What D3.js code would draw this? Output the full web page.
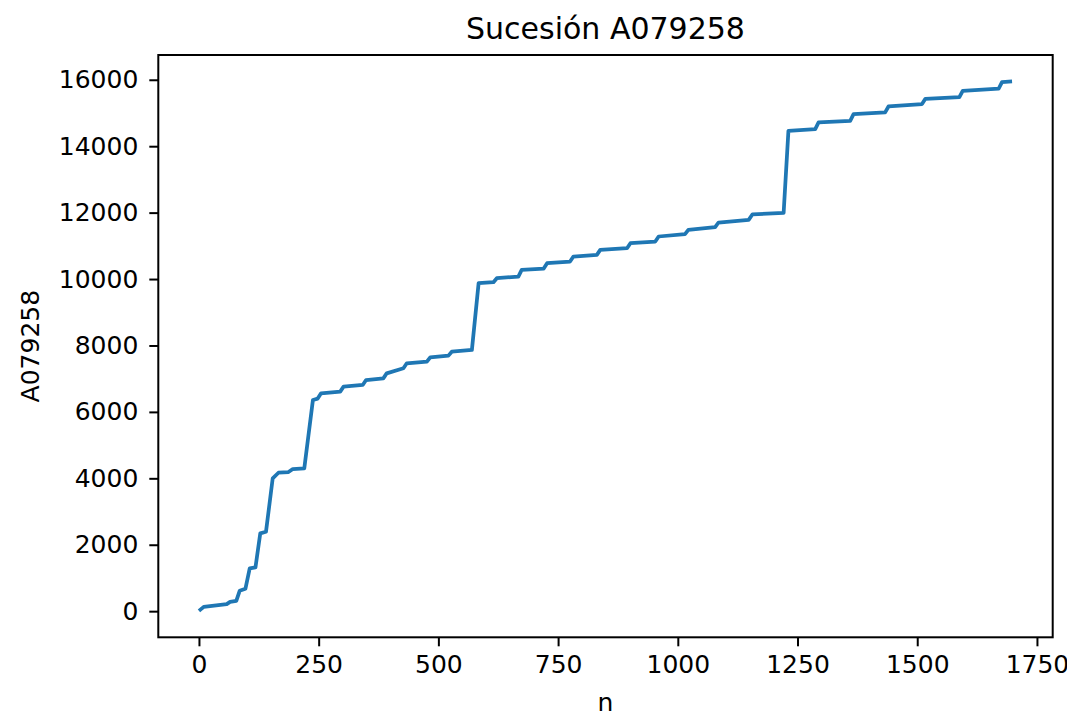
<!DOCTYPE html>
<html>
<head>
<meta charset="utf-8">
<script src="https://cdn.jsdelivr.net/npm/d3@7"></script>
<style>
  html, body { margin: 0; padding: 0; background: #fff; }
  svg { display: block; }
  text { font-family: "DejaVu Sans", sans-serif; fill: #000; }
</style>
</head>
<body>
<svg id="chart" width="1067" height="717"></svg>
<script>
// Polyline vertices of the sequence plot
const nValues = [0, 10, 58, 65, 78, 85, 97, 106, 118, 128, 140, 154, 166, 187, 196, 220, 238,
  248, 255, 295, 302, 342, 349, 385, 392, 427, 434, 476, 483, 521, 528, 570, 584,
  615, 622, 667, 674, 720, 727, 775, 782, 831, 838, 894, 901, 953, 960, 1015, 1022,
  1078, 1085, 1148, 1156, 1221, 1231, 1287, 1294, 1360, 1367, 1433, 1440, 1510, 1517,
  1588, 1595, 1670, 1677, 1698];
const aValues = [10, 130, 211, 280, 310, 612, 672, 1286, 1316, 2341, 2390, 3998, 4168, 4188, 4279, 4300, 6358,
  6400, 6560, 6610, 6760, 6810, 6960, 7010, 7160, 7313, 7463, 7512, 7644, 7693, 7813, 7865, 9874,
  9904, 10025, 10074, 10275, 10316, 10477, 10527, 10678, 10728, 10878, 10929, 11080, 11130, 11281, 11351, 11481,
  11562, 11702, 11783, 11950, 11990, 14464, 14514, 14715, 14765, 14966, 15016, 15196, 15267, 15427,
  15479, 15669, 15730, 15930, 15949];
const xTicks = [0, 250, 500, 750, 1000, 1250, 1500, 1750];
const yTicks = [0, 2000, 4000, 6000, 8000, 10000, 12000, 14000, 16000];
const titleText = "Sucesión A079258";
const xLabel = "n";
const yLabel = "A079258";

(function () {
const data = nValues.map((n, i) => ({ n, a: aValues[i] }));

const svg = d3.select("#chart");
const L = 158.3, R = 1052.7, T = 55, B = 637.3;

function padded(ext) {
  const s = ext[1] - ext[0];
  return [ext[0] - 0.05 * s, ext[1] + 0.05 * s];
}
const x = d3.scaleLinear().domain(padded(d3.extent(nValues))).range([L, R]);
const y = d3.scaleLinear().domain(padded(d3.extent(aValues))).range([B, T]);

// line
svg.append("path")
  .datum(data)
  .attr("fill", "none")
  .attr("stroke", "#1f77b4")
  .attr("stroke-width", 3.75)
  .attr("stroke-linejoin", "round")
  .attr("stroke-linecap", "butt")
  .attr("d", d3.line().x(d => x(d.n)).y(d => y(d.a)));

// axes
const xAxis = d3.axisBottom(x).tickValues(xTicks).tickSize(9).tickPadding(9).tickFormat(d3.format("d"));
const yAxis = d3.axisLeft(y).tickValues(yTicks).tickSize(9).tickPadding(11).tickFormat(d3.format("d"));

const gx = svg.append("g").attr("transform", `translate(0,${B})`).call(xAxis);
const gy = svg.append("g").attr("transform", `translate(${L},0)`).call(yAxis);
[gx, gy].forEach(g => {
  g.select(".domain").remove();
  g.selectAll(".tick line").attr("stroke", "#000").attr("stroke-width", 2);
  g.selectAll(".tick text").attr("font-size", 25).attr("fill", "#000")
    .attr("font-family", "DejaVu Sans, sans-serif");
});
gx.selectAll(".tick text").attr("dy", "0.72em");

// frame
svg.append("rect")
  .attr("x", L).attr("y", T)
  .attr("width", R - L).attr("height", B - T)
  .attr("fill", "none").attr("stroke", "#000").attr("stroke-width", 2);

// title and labels
svg.append("text").attr("x", (L + R) / 2).attr("y", 39)
  .attr("text-anchor", "middle").attr("font-size", 30).text(titleText);
svg.append("text").attr("x", (L + R) / 2).attr("y", 711)
  .attr("text-anchor", "middle").attr("font-size", 25).text(xLabel);
svg.append("text").attr("transform", `translate(39,${(T + B) / 2}) rotate(-90)`)
  .attr("text-anchor", "middle").attr("font-size", 25).text(yLabel);
})();
</script>
</body>
</html>
